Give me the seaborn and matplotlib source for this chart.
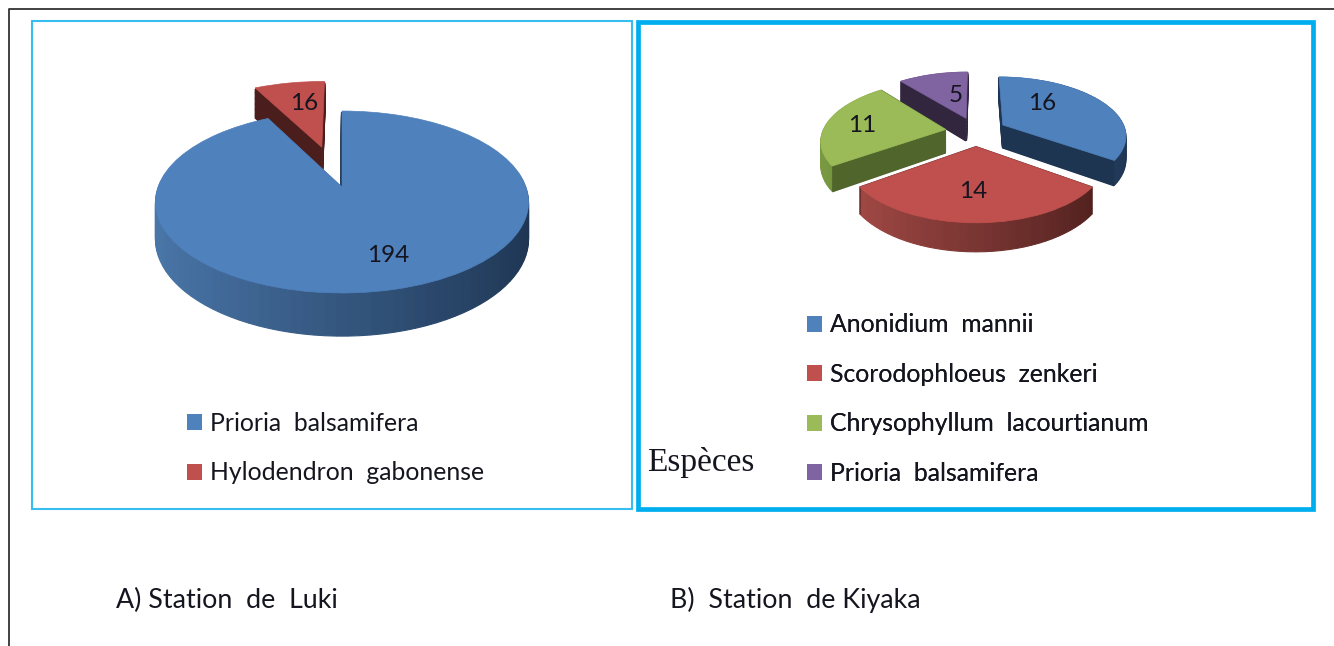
# Two tilted pie charts side by side: species counts per station
import numpy as np
import matplotlib
matplotlib.use('Agg')
import matplotlib.pyplot as plt
import seaborn as sns
from matplotlib.patches import Patch, Rectangle
from matplotlib.transforms import Transform

# data
# -----------------------------------------------------------------------------
luki_species = ['Prioria  balsamifera', 'Hylodendron  gabonense']
luki_values = [194, 16]

kiyaka_species = ['Anonidium  mannii', 'Scorodophloeus  zenkeri',
                  'Chrysophyllum  lacourtianum', 'Prioria  balsamifera']
kiyaka_values = [16, 14, 11, 5]

luki_caption = 'A) Station  de  Luki'
kiyaka_caption = 'B)  Station  de Kiyaka'
legend_title = 'Espèces'
# -----------------------------------------------------------------------------

# style
# -----------------------------------------------------------------------------
sns.set_theme(style='white')
plt.rcParams['font.family'] = ['Lato', 'DejaVu Sans']
WIDTH, HEIGHT = 1334, 646
TEXT = '#15151f'
BLUE, RED, GREEN, PURPLE = '#4F81BD', '#C0504D', '#9BBB59', '#8064A2'
WALLS = {BLUE: ('#4A77AA', '#1E3552'),
         RED: ('#A84C48', '#4A1E1C'),
         GREEN: ('#7A9A42', '#4F652B'),
         PURPLE: ('#6A5486', '#32263F'),
         }
# -----------------------------------------------------------------------------


class TiltedPie(Transform):
    # unit pie coordinates to pixels, with a simple perspective
    input_dims = 2
    output_dims = 2

    def __init__(self, cx, cy, rx, ry, tilt, drop=0):
        super().__init__()
        self.cx, self.cy, self.rx, self.ry = cx, cy, rx, ry
        self.tilt, self.drop = tilt, drop

    def transform_non_affine(self, values):
        x, y = values[:, 0], values[:, 1]
        w = 1 + self.tilt * y
        return np.column_stack([self.cx + self.rx * x / w,
                                self.cy - self.ry * y / w + self.drop / w])


def draw_pie(ax, values, slice_colors, explode, draw_order, shape, depth):
    total = sum(values)
    starts = 90 - 360 * np.cumsum([0] + list(values[:-1])) / total
    for i in draw_order:
        frac = values[i] / total
        sweep = 360 * frac
        mid = np.radians(starts[i] - sweep / 2)
        center = (explode[i] * np.cos(mid), explode[i] * np.sin(mid))
        light, dark = WALLS[slice_colors[i]]
        ramp = sns.blend_palette([light, dark], 65)

        # outer wall, built from thin pieces so the shade can follow the angle
        n = max(int(sweep / 3), 2)
        mids = np.radians(starts[i] - (np.arange(n) + 0.5) * sweep / n)
        shades = [ramp[int(64 * (np.cos(m) + 1) / 2)] for m in mids]
        for drop in np.arange(depth, 0, -1.5):
            trans = TiltedPie(*shape, drop=drop) + ax.transData
            pieces, _ = ax.pie([frac / n] * n, colors=shades, center=center,
                               startangle=starts[i], counterclock=False,
                               normalize=False)
            for piece in pieces:
                piece.set_transform(trans)
                piece.set_edgecolor(piece.get_facecolor())
                piece.set_linewidth(0.8)
            # cut faces of the slice, zorder 1 keeps them in drawing order
            for angle in (starts[i], starts[i] - sweep):
                a = np.radians(angle)
                ax.plot([center[0], center[0] + np.cos(a)],
                        [center[1], center[1] + np.sin(a)],
                        color=dark, lw=1.6, solid_capstyle='butt',
                        transform=trans, zorder=1)

        top, _ = ax.pie([frac], colors=[slice_colors[i]], center=center,
                        startangle=starts[i], counterclock=False,
                        normalize=False)
        top[0].set_transform(TiltedPie(*shape) + ax.transData)
        top[0].set_edgecolor(slice_colors[i])
        top[0].set_linewidth(0.5)


def add_legend(ax, species, slice_colors, x, y):
    handles = [Patch(facecolor=c, edgecolor='none') for c in slice_colors]
    legend = ax.legend(handles, species, loc='upper left',
                       bbox_to_anchor=(x, y), bbox_transform=ax.transData,
                       frameon=False, fontsize=17.8, labelcolor=TEXT,
                       handlelength=0.62, handleheight=0.62,
                       handletextpad=0.32, labelspacing=1.07,
                       borderpad=0, borderaxespad=0)
    ax.add_artist(legend)


fig = plt.figure(figsize=(WIDTH / 100, HEIGHT / 100), dpi=100)
ax = fig.add_axes([0, 0, 1, 1])

# the pies
# -----------------------------------------------------------------------------
draw_pie(ax, luki_values, [BLUE, RED], [0, 0.5], [1, 0],
         (342, 187, 184, 88.5, 0.165), 36)
draw_pie(ax, kiyaka_values, [BLUE, RED, GREEN, PURPLE],
         [0.25, 0.25, 0.25, 0.25], [3, 0, 2, 1],
         (976, 131.5, 123, 58, 0.165), 23)

ax.set_aspect('auto')
ax.set_xlim(0, WIDTH)
ax.set_ylim(HEIGHT, 0)
ax.set_xticks([])
ax.set_yticks([])
ax.set_frame_on(False)

# value labels
for value, x, y in zip(luki_values, (388, 304), (256, 103)):
    ax.text(x, y, str(value), ha='center', va='center', fontsize=17.5,
            color=TEXT)
for value, x, y in zip(kiyaka_values, (1042, 973, 862, 956),
                       (104, 192, 125, 95)):
    ax.text(x, y, str(value), ha='center', va='center', fontsize=17.5,
            color=TEXT)
# -----------------------------------------------------------------------------

# frames and texts
# -----------------------------------------------------------------------------
ax.plot([9, 9, WIDTH], [HEIGHT, 9, 9], color='#333333', lw=1.3,
        clip_on=False)
ax.add_patch(Rectangle((32, 21), 600, 488, fill=False, edgecolor='#38BDF0',
                       lw=1.5))
ax.add_patch(Rectangle((638, 22), 675, 487, fill=False,
                       edgecolor='#00AEEF', lw=3.4))

add_legend(ax, luki_species, [BLUE, RED], 187, 412)
add_legend(ax, kiyaka_species, [BLUE, RED, GREEN, PURPLE], 807, 313.5)

ax.text(647, 462, legend_title, family='Liberation Serif', fontsize=24,
        color=TEXT, va='center')
ax.text(116, 600, luki_caption, fontsize=19.3, color=TEXT, va='center')
ax.text(670, 600, kiyaka_caption, fontsize=19.3, color=TEXT, va='center')
# -----------------------------------------------------------------------------

plt.savefig('out.png', dpi=100)
